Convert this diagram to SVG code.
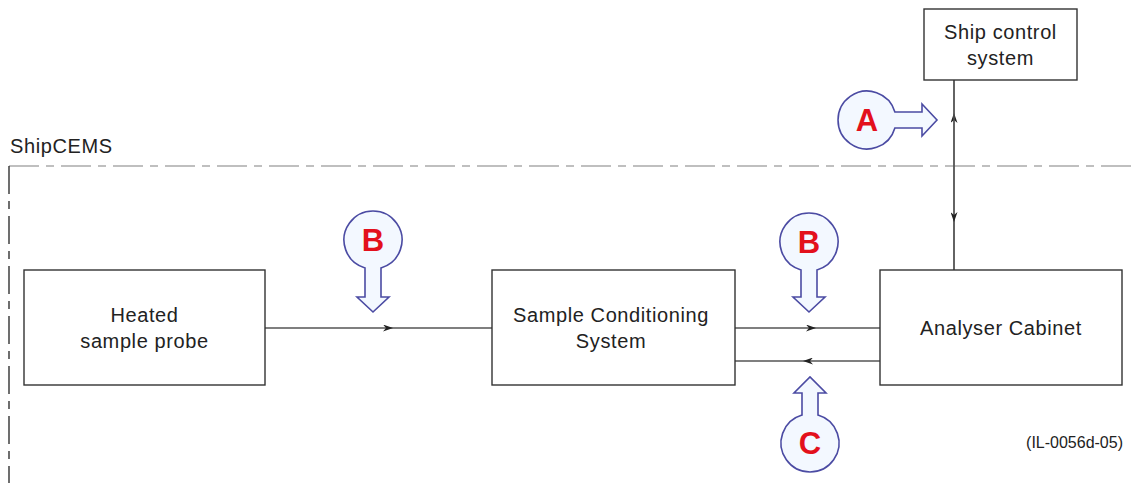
<svg xmlns="http://www.w3.org/2000/svg" width="1137" height="483" viewBox="0 0 1137 483">
<style>
.box{fill:#fff;stroke:#333;stroke-width:1.4}
.t{font-family:"Liberation Sans",Arial,sans-serif;font-size:20px;letter-spacing:0.6px;fill:#222;text-anchor:middle}
.conn{fill:none;stroke:#555;stroke-width:1.4}
.call{fill:#f3f8ff;stroke:#4b4ba3;stroke-width:1.6}
.lt{font-family:"Liberation Sans",Arial,sans-serif;font-size:31px;font-weight:bold;fill:#e3101c;text-anchor:middle}
</style>
<defs>
<marker id="ar" viewBox="0 0 10 7" refX="10" refY="3.5" markerWidth="10" markerHeight="7" markerUnits="userSpaceOnUse" orient="auto">
<path d="M0,0 L10,3.5 L0,7 L3,3.5 Z" fill="#222"/>
</marker>
</defs>
<g id="boundary">
<line x1="9" y1="166" x2="1137" y2="166" stroke="#aaa" stroke-width="1.3" stroke-dasharray="30 7 8 7"/>
<line x1="9" y1="166" x2="9" y2="483" stroke="#222" stroke-width="1.3" stroke-dasharray="28 7 8 7"/>
<text x="10" y="153" class="t" style="text-anchor:start">ShipCEMS</text>
</g>
<g id="connectors">
<path class="conn" d="M265 328 L393 328 L492 328" marker-mid="url(#ar)"/>
<path class="conn" d="M735 328 L816 328 L880 328" marker-mid="url(#ar)"/>
<path class="conn" d="M880 361 L803 361 L735 361" marker-mid="url(#ar)"/>
<path class="conn" d="M954 270 L954 113 L954 80" marker-mid="url(#ar)" stroke="#222"/>
<path class="conn" d="M954 80 L954 222 L954 270" marker-mid="url(#ar)" stroke="#222"/>
</g>
<g id="ship-control">
<rect class="box" x="924" y="9" width="153" height="71"/>
<text class="t" x="1000.5" y="39">Ship control</text>
<text class="t" x="1000.5" y="65">system</text>
</g>
<g id="heated-probe">
<rect class="box" x="24" y="270" width="241" height="115"/>
<text class="t" x="144.5" y="322">Heated</text>
<text class="t" x="144.5" y="348">sample probe</text>
</g>
<g id="sample-conditioning">
<rect class="box" x="492" y="270" width="243" height="115"/>
<text class="t" x="611" y="322">Sample Conditioning</text>
<text class="t" x="611" y="348">System</text>
</g>
<g id="analyser-cabinet">
<rect class="box" x="880" y="270" width="242" height="115"/>
<text class="t" x="1001" y="335">Analyser Cabinet</text>
</g>
<g id="callout-A">
<path class="call" d="M894.9 128 A29 29 0 1 1 894.9 112 L922 112 L922 104 L937 120 L922 136 L922 128 Z"/>
<text class="lt" x="867" y="131">A</text>
</g>
<g id="callout-B1">
<path class="call" d="M365 267.9 A29 29 0 1 1 381 267.9 L381 297 L389 297 L373 312 L357 297 L365 297 Z"/>
<text class="lt" x="373" y="251">B</text>
</g>
<g id="callout-B2">
<path class="call" d="M801 269.9 A29 29 0 1 1 817 269.9 L817 297 L825 297 L809 312 L793 297 L801 297 Z"/>
<text class="lt" x="809" y="253">B</text>
</g>
<g id="callout-C">
<path class="call" d="M818 415.1 A29 29 0 1 1 802 415.1 L802 393 L794 393 L810 377 L826 393 L818 393 Z"/>
<text class="lt" x="810" y="454">C</text>
</g>
<text x="1123" y="448" style="font-family:'Liberation Sans',Arial,sans-serif;font-size:16px;fill:#222;text-anchor:end">(IL-0056d-05)</text>
</svg>
